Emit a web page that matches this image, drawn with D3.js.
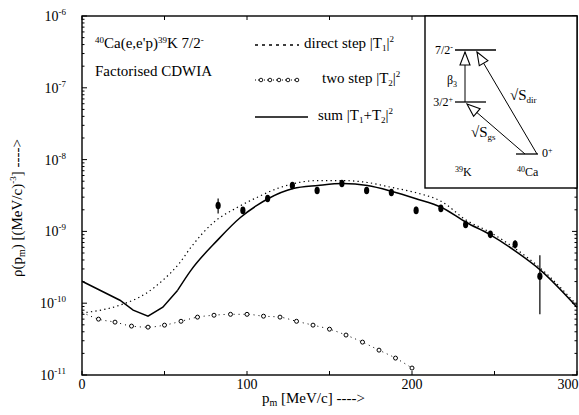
<!DOCTYPE html>
<html>
<head>
<meta charset="utf-8">
<script src="https://cdn.jsdelivr.net/npm/d3@7"></script>
<style>
  body { margin: 0; background: #fff; }
</style>
</head>
<body>
<div id="chart"></div>
<script>
// Measured data points (p_m in MeV/c, rho in (MeV/c)^-3)
const pData = [82.5, 97.5, 112.5, 127.5, 142.5, 157.5, 172.5, 187.5, 202.5, 217.5, 232.5, 247.5, 262.5, 277.5];
const rhoData = [2.30e-9, 1.96e-9, 2.87e-9, 4.36e-9, 3.71e-9, 4.64e-9, 3.71e-9, 3.48e-9, 1.96e-9, 2.09e-9, 1.25e-9, 9.1e-10, 6.6e-10, 2.37e-10];
const rhoLo = [1.77e-9, 1.78e-9, 2.6e-9, 4.0e-9, 3.4e-9, 4.3e-9, 3.4e-9, 3.2e-9, 1.75e-9, 1.9e-9, 1.13e-9, 8.2e-10, 5.8e-10, 7.0e-11];
const rhoHi = [2.87e-9, 2.15e-9, 3.15e-9, 4.75e-9, 4.05e-9, 5.0e-9, 4.05e-9, 3.8e-9, 2.2e-9, 2.3e-9, 1.38e-9, 1.0e-9, 7.5e-10, 4.64e-10];

// direct step |T1|^2
const pDirect = [0, 23, 39, 49, 59, 66, 79, 94, 106, 120, 143, 158, 173, 188, 202, 218, 233, 247, 262, 278, 300];
const rhoDirect = [7.3e-11, 9.4e-11, 1.38e-10, 2.09e-10, 3.6e-10, 6.0e-10, 1.29e-9, 2.15e-9, 2.97e-9, 4.08e-9, 5.1e-9, 5.1e-9, 4.8e-9, 4.08e-9, 3.48e-9, 2.6e-9, 1.43e-9, 9.8e-10, 5.9e-10, 3.05e-10, 9.4e-11];

// two step |T2|^2
const pTwo = [0, 10, 20, 30, 40, 50, 60, 70, 80, 90, 100, 110, 120, 130, 140, 150, 160, 170, 180, 190, 200];
const rhoTwo = [7.5e-11, 6.0e-11, 5.45e-11, 4.8e-11, 4.64e-11, 4.95e-11, 5.6e-11, 6.4e-11, 6.8e-11, 7.0e-11, 7.0e-11, 6.6e-11, 6.4e-11, 5.6e-11, 4.95e-11, 4.35e-11, 3.6e-11, 2.87e-11, 2.22e-11, 1.72e-11, 1.25e-11];

// sum |T1+T2|^2
const pSum = [0, 23, 31, 40, 49, 58, 66, 82, 96, 106, 113, 128, 143, 158, 173, 188, 202, 218, 233, 247, 262, 278, 300];
const rhoSum = [2.02e-10, 1.10e-10, 8.0e-11, 6.6e-11, 8.8e-11, 1.52e-10, 2.87e-10, 7.5e-10, 1.56e-9, 2.30e-9, 2.87e-9, 3.95e-9, 4.36e-9, 4.64e-9, 4.36e-9, 3.6e-9, 2.87e-9, 2.15e-9, 1.33e-9, 9.1e-10, 5.45e-10, 2.87e-10, 8.8e-11];

const xTicks = [0, 50, 100, 150, 200, 250, 300];
const xLabels = [0, 100, 200, 300];
const yDecades = [-11, -10, -9, -8, -7, -6];

const W = 579, H = 415;
const mLeft = 82, mRight = 577, mTop = 16, mBottom = 375;

const svg = d3.select("#chart").append("svg")
  .attr("width", W).attr("height", H);

const x = d3.scaleLinear().domain([0, 300]).range([mLeft, mRight]);
const y = d3.scaleLog().domain([1e-11, 1e-6]).range([mBottom, mTop]);

// Frame
svg.append("rect")
  .attr("x", mLeft).attr("y", mTop)
  .attr("width", mRight - mLeft).attr("height", mBottom - mTop)
  .attr("fill", "none").attr("stroke", "#000").attr("stroke-width", 1.4);

// x ticks (bottom and top, inward)
xTicks.forEach(v => {
  svg.append("line").attr("x1", x(v)).attr("x2", x(v)).attr("y1", mBottom).attr("y2", mBottom - 4)
    .attr("stroke", "#000");
  svg.append("line").attr("x1", x(v)).attr("x2", x(v)).attr("y1", mTop).attr("y2", mTop + 4)
    .attr("stroke", "#000");
});
svg.selectAll(".xlab").data(xLabels).enter().append("text")
  .attr("x", d => Math.min(x(d), 568)).attr("y", 389)
  .attr("text-anchor", "middle").attr("font-size", 14)
  .text(d => d);

// y ticks: decades and minor
yDecades.forEach(e => {
  const v = Math.pow(10, e);
  [0, 1].forEach(s => {
    const xx = s ? mRight : mLeft;
    const dir = s ? -1 : 1;
    svg.append("line").attr("x1", xx).attr("x2", xx + dir * 5).attr("y1", y(v)).attr("y2", y(v)).attr("stroke", "#000");
    if (e < -6) {
      for (let k = 2; k < 10; k++) {
        svg.append("line").attr("x1", xx).attr("x2", xx + dir * 2.5)
          .attr("y1", y(v * k)).attr("y2", y(v * k)).attr("stroke", "#000");
      }
    }
  });
  const t = svg.append("text").attr("x", 66).attr("y", y(v) + 5)
    .attr("text-anchor", "end").attr("font-size", 14);
  t.append("tspan").text("10");
  t.append("tspan").attr("dy", -6).attr("font-size", 9).text("-" + (-e));
});

// Axis titles
const xt = svg.append("text").attr("x", 262).attr("y", 403).attr("font-size", 15);
xt.append("tspan").text("p");
xt.append("tspan").attr("dy", 3).attr("font-size", 10).text("m");
xt.append("tspan").attr("dy", -3).text(" [MeV/c]   ---->");

const yt = svg.append("text").attr("transform", "translate(22,277) rotate(-90)").attr("font-size", 15);
yt.append("tspan").text("\u03c1(p");
yt.append("tspan").attr("dy", 3).attr("font-size", 10).text("m");
yt.append("tspan").attr("dy", -3).text(") [(MeV/c)");
yt.append("tspan").attr("dy", -6).attr("font-size", 9).text("-3");
yt.append("tspan").attr("dy", 6).text("]    ---->");

// Curves
const smooth = d3.line().x(d => x(d[0])).y(d => y(d[1])).curve(d3.curveMonotoneX);
const straight = d3.line().x(d => x(d[0])).y(d => y(d[1]));
const directPts = pDirect.map((p, i) => [p, rhoDirect[i]]);
const twoPts = pTwo.map((p, i) => [p, rhoTwo[i]]);
const sumPts = pSum.map((p, i) => [p, rhoSum[i]]);

svg.append("path").datum(directPts).attr("d", smooth)
  .attr("fill", "none").attr("stroke", "#000").attr("stroke-width", 1.2).attr("stroke-dasharray", "1.3,3.2");
svg.append("path").datum(twoPts).attr("d", smooth)
  .attr("fill", "none").attr("stroke", "#000").attr("stroke-width", 1).attr("stroke-dasharray", "1,4");
svg.selectAll(".two").data(twoPts.slice(1)).enter().append("circle")
  .attr("cx", d => x(d[0])).attr("cy", d => y(d[1])).attr("r", 2)
  .attr("fill", "#fff").attr("stroke", "#000").attr("stroke-width", 1);
// the sum curve has a sharp kink near its minimum: straight segments there, smooth after
svg.append("path").datum(sumPts.slice(0, 6)).attr("d", straight)
  .attr("fill", "none").attr("stroke", "#000").attr("stroke-width", 1.5);
svg.append("path").datum(sumPts.slice(5)).attr("d", smooth)
  .attr("fill", "none").attr("stroke", "#000").attr("stroke-width", 1.5);

// Data points with error bars
pData.forEach((p, i) => {
  svg.append("line").attr("x1", x(p)).attr("x2", x(p))
    .attr("y1", y(rhoLo[i])).attr("y2", y(rhoHi[i])).attr("stroke", "#000").attr("stroke-width", 1.2);
  svg.append("ellipse").attr("cx", x(p)).attr("cy", y(rhoData[i]))
    .attr("rx", 2.6).attr("ry", 3.8).attr("fill", "#000");
});

// Legend / annotations
const l1 = svg.append("text").attr("x", 95).attr("y", 48).attr("font-size", 15);
l1.append("tspan").attr("dy", -5).attr("font-size", 9).text("40");
l1.append("tspan").attr("dy", 5).text("Ca(e,e'p)");
l1.append("tspan").attr("dy", -5).attr("font-size", 9).text("39");
l1.append("tspan").attr("dy", 5).text("K 7/2");
l1.append("tspan").attr("dy", -5).attr("font-size", 9).text("-");
svg.append("text").attr("x", 95).attr("y", 76).attr("font-size", 15).text("Factorised  CDWIA");

function legendLabel(xx, yy, a, sub, b) {
  const t = svg.append("text").attr("x", xx).attr("y", yy).attr("font-size", 15);
  t.append("tspan").text(a);
  t.append("tspan").attr("dy", 3).attr("font-size", 9).text(sub);
  t.append("tspan").attr("dy", -3).text(b);
  t.append("tspan").attr("dy", -6).attr("font-size", 9).text("2");
}
svg.append("line").attr("x1", 255).attr("x2", 299).attr("y1", 45).attr("y2", 45)
  .attr("stroke", "#000").attr("stroke-width", 1.4).attr("stroke-dasharray", "3,4");
legendLabel(304, 48, "direct step |T", "1", "|");
svg.append("line").attr("x1", 255).attr("x2", 300).attr("y1", 80).attr("y2", 80)
  .attr("stroke", "#000").attr("stroke-width", 1).attr("stroke-dasharray", "1,2");
[261, 270, 279, 288, 297].forEach(cx => svg.append("circle").attr("cx", cx).attr("cy", 80).attr("r", 1.8)
  .attr("fill", "#fff").attr("stroke", "#000").attr("stroke-width", 0.9));
legendLabel(322, 83, "two step |T", "2", "|");
svg.append("line").attr("x1", 255).attr("x2", 308).attr("y1", 117).attr("y2", 117)
  .attr("stroke", "#000").attr("stroke-width", 1.5);
const ls = svg.append("text").attr("x", 318).attr("y", 120).attr("font-size", 15);
ls.append("tspan").text("sum |T");
ls.append("tspan").attr("dy", 3).attr("font-size", 9).text("1");
ls.append("tspan").attr("dy", -3).text("+T");
ls.append("tspan").attr("dy", 3).attr("font-size", 9).text("2");
ls.append("tspan").attr("dy", -3).text("|");
ls.append("tspan").attr("dy", -6).attr("font-size", 9).text("2");

// Inset level scheme
const inset = svg.append("g");
inset.append("rect").attr("x", 425).attr("y", mTop).attr("width", mRight - 425).attr("height", 188 - mTop)
  .attr("fill", "#fff").attr("stroke", "#000").attr("stroke-width", 1.4);
const lv = (x1, x2, yy) => inset.append("line").attr("x1", x1).attr("x2", x2).attr("y1", yy).attr("y2", yy)
  .attr("stroke", "#000").attr("stroke-width", 1.3);
lv(455, 496, 50);
lv(455, 486, 102);
lv(516, 538, 154);

function arrow(x1, y1, x2, y2) {
  inset.append("line").attr("x1", x1).attr("y1", y1).attr("x2", x2).attr("y2", y2)
    .attr("stroke", "#000").attr("stroke-width", 1);
  const a = Math.atan2(y2 - y1, x2 - x1);
  const len = 13, hw = 5;
  const bx = x2 - len * Math.cos(a), by = y2 - len * Math.sin(a);
  const px = -Math.sin(a) * hw, py = Math.cos(a) * hw;
  inset.append("polygon")
    .attr("points", `${x2},${y2} ${bx + px},${by + py} ${bx - px},${by - py}`)
    .attr("fill", "#fff").attr("stroke", "#000").attr("stroke-width", 1.1);
}
arrow(465, 102, 465, 52);
arrow(537, 154, 477, 52);
arrow(525, 154, 467, 104);

const tx = (xx, yy, anchor) => inset.append("text").attr("x", xx).attr("y", yy)
  .attr("text-anchor", anchor || "start").attr("font-size", 12);
let t = tx(453, 54, "end"); t.append("tspan").text("7/2"); t.append("tspan").attr("dy", -4).attr("font-size", 8).text("-");
t = tx(453, 106, "end"); t.append("tspan").text("3/2"); t.append("tspan").attr("dy", -4).attr("font-size", 8).text("+");
t = tx(542, 157); t.append("tspan").text("0"); t.append("tspan").attr("dy", -4).attr("font-size", 8).text("+");
t = tx(447, 84); t.append("tspan").text("\u03b2"); t.append("tspan").attr("dy", 3).attr("font-size", 8).text("3");
t = tx(510, 100).attr("font-size", 15); t.append("tspan").text("\u221aS"); t.append("tspan").attr("dy", 3).attr("font-size", 9).text("dir");
t = tx(471, 137).attr("font-size", 15); t.append("tspan").text("\u221aS"); t.append("tspan").attr("dy", 3).attr("font-size", 9).text("gs");
t = tx(455, 176); t.append("tspan").attr("dy", -4).attr("font-size", 8).text("39"); t.append("tspan").attr("dy", 4).text("K");
t = tx(517, 176); t.append("tspan").attr("dy", -4).attr("font-size", 8).text("40"); t.append("tspan").attr("dy", 4).text("Ca");

// serif face on every text and tspan
svg.selectAll("text, tspan").attr("font-family", "Liberation Serif").attr("fill", "#000");
</script>
</body>
</html>
